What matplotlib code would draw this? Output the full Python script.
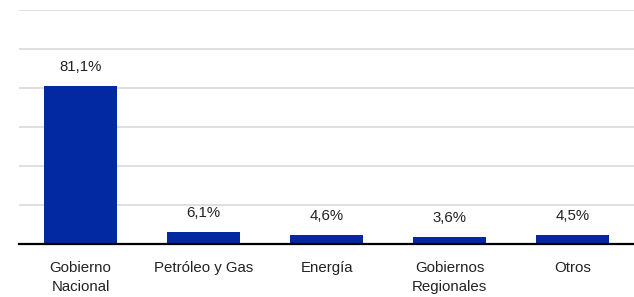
import matplotlib
matplotlib.use("Agg")
import matplotlib.pyplot as plt

# Data
categories = ["Gobierno\nNacional", "Petróleo y Gas", "Energía", "Gobiernos\nRegionales", "Otros"]
values = [81.1, 6.1, 4.6, 3.6, 4.5]
value_labels = ["81,1%", "6,1%", "4,6%", "3,6%", "4,5%"]

plt.rcParams['font.family'] = ['Liberation Sans', 'DejaVu Sans']

fig = plt.figure(figsize=(6.34, 2.97), dpi=100)
ax = fig.add_axes([19 / 634, 53 / 297, 615 / 634, 234 / 297])

x = range(len(categories))
bars = ax.bar(x, values, width=0.6, color="#0229a1", zorder=3)

# labels above bars
for b, lab in zip(bars, value_labels):
    ax.annotate(lab, (b.get_x() + b.get_width() / 2, b.get_height()),
                xytext=(0, 11), textcoords="offset points",
                ha="center", va="baseline", fontsize=10.8, color="#222222")

ax.set_xlim(-0.5, len(categories) - 0.5)
ax.set_ylim(0, 120)
ax.set_yticks(range(0, 121, 20))
ax.set_yticklabels([])
ax.tick_params(axis="y", length=0)
ax.grid(axis="y", color="#d9d9d9", linewidth=1.2, zorder=0)

ax.set_xticks(list(x))
ax.set_xticklabels(categories, fontsize=10.8, color="#222222", linespacing=1.45)
ax.tick_params(axis="x", length=0, pad=12)

for s in ["top", "right", "left"]:
    ax.spines[s].set_visible(False)
ax.spines["bottom"].set_color("black")
ax.spines["bottom"].set_linewidth(1.6)
ax.spines["bottom"].set_zorder(4)

fig.savefig("out.png", dpi=100)
